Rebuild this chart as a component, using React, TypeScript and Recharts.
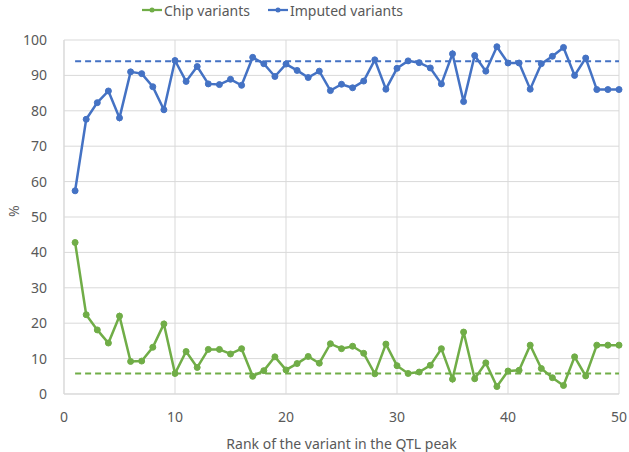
import {
  CartesianGrid,
  Line,
  LineChart,
  ReferenceLine,
  XAxis,
  YAxis,
} from 'recharts';

const ranks = Array.from({ length: 50 }, (_, i) => i + 1);

const chipVariants = [
  42.8, 22.4, 18.1, 14.4, 22.0, 9.2, 9.3, 13.2, 19.8, 5.8,
  12.0, 7.5, 12.6, 12.6, 11.3, 12.8, 5.0, 6.6, 10.5, 6.8,
  8.6, 10.6, 8.7, 14.2, 12.8, 13.5, 11.5, 5.7, 14.1, 8.0,
  5.8, 6.2, 8.1, 12.8, 4.2, 17.5, 4.3, 8.8, 2.1, 6.5,
  6.7, 13.8, 7.2, 4.6, 2.4, 10.5, 5.1, 13.8, 13.8, 13.8,
];

const imputedVariants = [
  57.4, 77.6, 82.3, 85.6, 78.0, 91.0, 90.5, 86.8, 80.3, 94.2,
  88.3, 92.5, 87.6, 87.4, 88.9, 87.2, 95.1, 93.3, 89.7, 93.2,
  91.4, 89.4, 91.2, 85.7, 87.5, 86.5, 88.4, 94.4, 86.1, 92.0,
  94.1, 93.6, 92.1, 87.6, 96.1, 82.6, 95.6, 91.2, 98.1, 93.5,
  93.5, 86.1, 93.3, 95.4, 97.9, 90.0, 94.9, 86.0, 86.0, 86.0,
];

const chipMean = 5.8;
const imputedMean = 94.0;

const xTicks = [0, 10, 20, 30, 40, 50];
const yTicks = [0, 10, 20, 30, 40, 50, 60, 70, 80, 90, 100];

const GREEN = '#70AD47';
const BLUE = '#4472C4';
const TEXT = '#595959';
const GRID = '#D9D9D9';
const FONT = '"Noto Sans", sans-serif';

const data = ranks.map((rank, i) => ({
  rank,
  chip: chipVariants[i],
  imputed: imputedVariants[i],
}));

function LegendItem({ color, label }: { color: string; label: string }) {
  return (
    <span style={{ display: 'inline-flex', alignItems: 'center', marginRight: 18 }}>
      <svg width={20} height={10} style={{ marginRight: 2 }}>
        <line x1={0} y1={5} x2={20} y2={5} stroke={color} strokeWidth={2.25} />
        <circle cx={10} cy={5} r={2.5} fill={color} />
      </svg>
      {label}
    </span>
  );
}

export default function App() {
  return (
    <div
      style={{
        position: 'absolute',
        left: 0,
        top: 0,
        width: 629,
        height: 452,
        background: '#fff',
        fontFamily: FONT,
      }}
    >
      <div
        style={{
          position: 'absolute',
          left: 142,
          top: 0,
          fontSize: 14,
          color: TEXT,
          whiteSpace: 'nowrap',
        }}
      >
        <LegendItem color={GREEN} label="Chip variants" />
        <LegendItem color={BLUE} label="Imputed variants" />
      </div>
      <LineChart
        width={629}
        height={452}
        data={data}
        margin={{ top: 40, right: 10, bottom: 0, left: 0 }}
        style={{ fontFamily: FONT }}
      >
        <CartesianGrid stroke={GRID} strokeWidth={1} />
        <XAxis
          dataKey="rank"
          type="number"
          domain={[0, 50]}
          ticks={xTicks}
          height={58}
          tickLine={false}
          axisLine={{ stroke: GRID }}
          tickMargin={12}
          tick={{ fill: TEXT, fontSize: 14 }}
          label={{
            value: 'Rank of the variant in the QTL peak',
            position: 'insideBottom',
            offset: 3,
            fill: TEXT,
            fontSize: 14,
          }}
        />
        <YAxis
          type="number"
          domain={[0, 100]}
          ticks={yTicks}
          width={64}
          tickLine={false}
          axisLine={{ stroke: GRID }}
          tickMargin={11}
          tick={{ fill: TEXT, fontSize: 14 }}
          label={{
            value: '%',
            angle: -90,
            position: 'insideLeft',
            offset: 14,
            fill: TEXT,
            fontSize: 14,
          }}
        />
        <ReferenceLine
          segment={[
            { x: 1, y: imputedMean },
            { x: 50, y: imputedMean },
          ]}
          stroke={BLUE}
          strokeWidth={2}
          strokeDasharray="6 4"
        />
        <ReferenceLine
          segment={[
            { x: 1, y: chipMean },
            { x: 50, y: chipMean },
          ]}
          stroke={GREEN}
          strokeWidth={2}
          strokeDasharray="6 4"
        />
        <Line
          type="linear"
          dataKey="chip"
          name="Chip variants"
          stroke={GREEN}
          strokeWidth={2.5}
          dot={{ r: 3, fill: GREEN, stroke: GREEN, strokeWidth: 1 }}
          isAnimationActive={false}
        />
        <Line
          type="linear"
          dataKey="imputed"
          name="Imputed variants"
          stroke={BLUE}
          strokeWidth={2.5}
          dot={{ r: 3, fill: BLUE, stroke: BLUE, strokeWidth: 1 }}
          isAnimationActive={false}
        />
      </LineChart>
    </div>
  );
}
